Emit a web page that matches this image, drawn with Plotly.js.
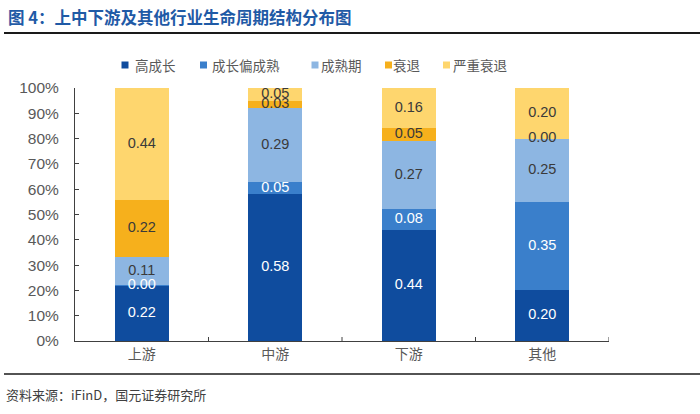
<!DOCTYPE html>
<html>
<head>
<meta charset="utf-8">
<script src="https://cdn.plot.ly/plotly-3.0.1.min.js"></script>
<style>html,body{margin:0;padding:0;background:#fff;}#chart{width:700px;height:414px;}</style>
</head>
<body>
<div id="chart"></div>
<script>
const categories = ['上游', '中游', '下游', '其他'];
const seriesNames = ['高成长', '成长偏成熟', '成熟期', '衰退', '严重衰退'];
// shares (labels shown rounded to 2 decimals)
const highGrowth   = [0.219, 0.58, 0.44, 0.20];
const growthMature = [0.002, 0.05, 0.08, 0.35];
const mature       = [0.111, 0.29, 0.27, 0.25];
const decline      = [0.224, 0.03, 0.05, 0.00];
const severeDecline= [0.444, 0.05, 0.16, 0.20];
const yTickVals = [0, 0.1, 0.2, 0.3, 0.4, 0.5, 0.6, 0.7, 0.8, 0.9, 1.0];
const yTickText = ['0%', '10%', '20%', '30%', '40%', '50%', '60%', '70%', '80%', '90%', '100%'];

const seriesValues = [highGrowth, growthMature, mature, decline, severeDecline];
const colors = ['#0F4C9E', '#3A7FCB', '#8DB6E2', '#F6B01C', '#FED66E'];
const labelColors = ['#ffffff', '#ffffff', '#3a3a3a', '#3a3a3a', '#3a3a3a'];

const traces = [];
seriesValues.forEach((vals, i) => {
  traces.push({
    type: 'bar', x: categories, y: vals, name: seriesNames[i],
    marker: {color: colors[i], line: {width: 0}},
    width: 0.405, hoverinfo: 'skip', showlegend: false
  });
});
// value labels centred in each segment (computed from the cumulative data)
const cum = categories.map(() => 0);
seriesValues.forEach((vals, i) => {
  const ys = vals.map((v, k) => cum[k] + v / 2);
  vals.forEach((v, k) => { cum[k] += v; });
  traces.push({
    type: 'scatter', mode: 'text', x: categories, y: ys,
    text: vals.map(v => v.toFixed(2)), showlegend: false, hoverinfo: 'skip',
    textposition: 'middle center',
    textfont: {family: 'Liberation Sans, Arial, sans-serif', size: 14.5, color: labelColors[i]}
  });
});

const W = 534, H = 253, L = 75, T = 88;
const px = x => (x - L) / W;
const py = y => (T + H - y) / H;

// legend (marker + label), laid out in a row above the plot
const legendMarkerX = [121.5, 200, 311.5, 385, 443];
const legendTextX = [133, 210, 319, 391, 451];
const legendY = 65;

const shapes = [
  {type: 'line', xref: 'paper', yref: 'paper', x0: px(4), x1: px(700), y0: py(33), y1: py(33), line: {color: '#1a1a1a', width: 2}},
  {type: 'line', xref: 'paper', yref: 'paper', x0: px(4), x1: px(700), y0: py(374), y1: py(374), line: {color: '#1a1a1a', width: 1.5}}
];
[0.5, 1.5, 2.5, 3.5].forEach(xv => shapes.push(
  {type: 'line', xref: 'x', yref: 'paper', x0: xv, x1: xv, y0: 0, y1: 4 / H, line: {color: '#404040', width: 1}}
));
const annotations = [
  {text: '资料来源：iFinD，国元证券研究所', xref: 'paper', yref: 'paper', x: px(4), y: py(394),
   xanchor: 'left', yanchor: 'middle', showarrow: false,
   font: {family: 'Noto Sans CJK SC, sans-serif', size: 13, color: '#404040'}}
];
seriesNames.forEach((name, i) => {
  shapes.push({type: 'rect', xref: 'paper', yref: 'paper',
    x0: px(legendMarkerX[i]), x1: px(legendMarkerX[i] + 7),
    y0: py(legendY + 3.5), y1: py(legendY - 3.5),
    fillcolor: colors[i], line: {width: 0}});
  annotations.push({text: name, xref: 'paper', yref: 'paper', x: px(legendTextX[i]), y: py(legendY),
    xanchor: 'left', yanchor: 'middle', showarrow: false,
    font: {family: 'Noto Sans CJK SC, sans-serif', size: 13.5, color: '#595959'}});
});

const layout = {
  width: 700, height: 414,
  margin: {l: L, r: 700 - L - W, t: T, b: 414 - T - H},
  paper_bgcolor: '#ffffff', plot_bgcolor: '#ffffff',
  barmode: 'stack',
  showlegend: false,
  title: {
    text: '<b>图 4：上中下游及其他行业生命周期结构分布图</b>',
    x: 8 / 700, xanchor: 'left', xref: 'container',
    y: 1 - 18 / 414, yanchor: 'middle', yref: 'container',
    font: {family: 'Noto Sans CJK SC, sans-serif', size: 16.5, color: '#1F5AA6'}
  },
  xaxis: {
    type: 'category', showgrid: false, zeroline: false,
    showline: true, linecolor: '#404040', linewidth: 1,
    ticks: '', tickfont: {family: 'Noto Sans CJK SC, sans-serif', size: 14, color: '#595959'},
    range: [-0.5, 3.5], fixedrange: true
  },
  yaxis: {
    range: [0, 1], tickvals: yTickVals, ticktext: yTickText,
    showgrid: false, zeroline: false, showline: true, linecolor: '#404040', linewidth: 1,
    ticks: 'inside', ticklen: 4, tickcolor: '#404040',
    tickfont: {family: 'Liberation Sans, Arial, sans-serif', size: 15.5, color: '#595959'},
    ticklabelstandoff: 12, fixedrange: true
  },
  shapes: shapes,
  annotations: annotations
};

Plotly.newPlot('chart', traces, layout, {displayModeBar: false, staticPlot: true});
</script>
</body>
</html>
